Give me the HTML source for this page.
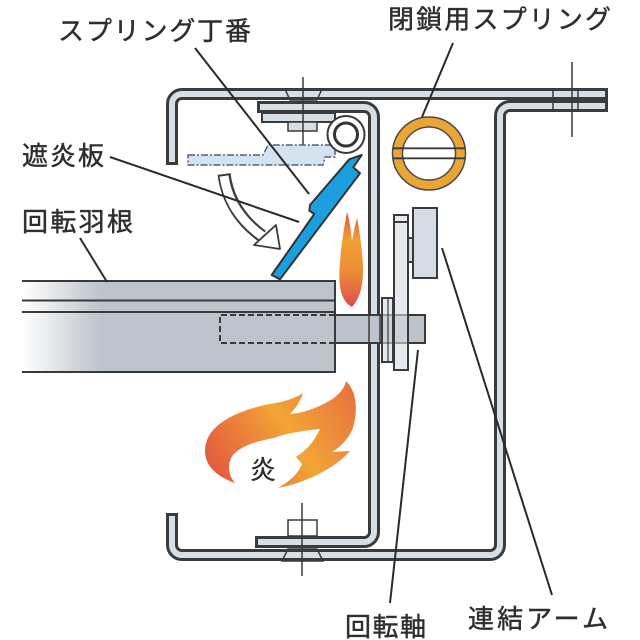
<!DOCTYPE html>
<html><head><meta charset="utf-8"><style>
html,body{margin:0;padding:0;background:#fff;}
svg{display:block}
text{font-family:"Liberation Sans","Noto Sans CJK JP",sans-serif;fill:#2e2e2e;stroke:#2e2e2e;stroke-width:0.45;}
</style></head><body>
<svg width="640" height="640" viewBox="0 0 640 640" xmlns="http://www.w3.org/2000/svg">
<defs>
<linearGradient id="blade" x1="22" y1="0" x2="100" y2="0" gradientUnits="userSpaceOnUse">
<stop offset="0" stop-color="#ffffff"/><stop offset="1" stop-color="#bdc4cc"/>
</linearGradient>
<linearGradient id="fl1" x1="0" y1="0" x2="0" y2="1">
<stop offset="0" stop-color="#e0553a"/><stop offset="0.3" stop-color="#f0a032"/><stop offset="0.65" stop-color="#eb8a38"/><stop offset="1" stop-color="#e04a4a"/>
</linearGradient>
<linearGradient id="fl2" x1="205" y1="480" x2="355" y2="385" gradientUnits="userSpaceOnUse">
<stop offset="0" stop-color="#e2503f"/><stop offset="0.55" stop-color="#f2a536"/><stop offset="1" stop-color="#e8703f"/>
</linearGradient>
</defs>

<!-- rotating blade -->
<rect x="22" y="281" width="313" height="91" fill="url(#blade)"/>
<g stroke="#3a3a3a" stroke-width="2" fill="none">
<line x1="22" y1="281" x2="336" y2="281"/>
<line x1="22" y1="300.5" x2="335" y2="300.5"/>
<line x1="22" y1="312" x2="335" y2="312"/>
<line x1="22" y1="372" x2="336" y2="372"/>
<line x1="335" y1="281" x2="335" y2="372"/>
<path d="M335,315 H220 V343 H335" stroke-dasharray="6,3"/>
</g>

<!-- frame pieces -->
<g fill="none" stroke-linejoin="round">
<path d="M608,106 H510 A10,10 0 0 0 500,116 V545 A10,10 0 0 1 490,555 H182 A10,10 0 0 1 172,545 V513" stroke="#3b3b3b" stroke-width="12"/>
<path d="M605,106 H510 A10,10 0 0 0 500,116 V545 A10,10 0 0 1 490,555 H182 A10,10 0 0 1 172,545 V516" stroke="#d6dee6" stroke-width="6"/>
<path d="M172,165 V104 A10,10 0 0 1 182,94 H608" stroke="#3b3b3b" stroke-width="12"/>
<path d="M172,162 V104 A10,10 0 0 1 182,94 H605" stroke="#d6dee6" stroke-width="6"/>
<path d="M257,107 H364 A10,10 0 0 1 374,117 V532 A10,10 0 0 1 364,542 H255" stroke="#3b3b3b" stroke-width="12"/>
<path d="M260,107 H364 A10,10 0 0 1 374,117 V532 A10,10 0 0 1 364,542 H258" stroke="#d6dee6" stroke-width="6"/>
</g>

<!-- hinge leaf and top bolt -->
<rect x="262" y="113" width="73" height="9" fill="#d6dee6" stroke="#3b3b3b" stroke-width="2"/>
<g stroke="#3a3a3a" stroke-width="1.5" fill="none">
<polygon points="285,89 322,89 317,100 290,100"/>
<rect x="288" y="122" width="29" height="9" fill="#d6dee6"/>
<line x1="303" y1="77" x2="303" y2="147"/>
<!-- bottom bolt -->
<rect x="288" y="520" width="29" height="16" fill="#fff"/>
<polygon points="288,549 317,549 323,561 282,561"/>
<line x1="302" y1="503" x2="302" y2="576"/>
<!-- right bolt -->
<line x1="572" y1="62" x2="572" y2="137"/>
<line x1="553" y1="89" x2="553" y2="111"/>
<line x1="578" y1="89" x2="578" y2="111"/>
</g>

<!-- dashed open-position plate -->
<polygon points="188,155 263,155 268,145 335,145 335,157 325,157 323,165 188,165" fill="#d3e3f0" stroke="#556070" stroke-width="1.5" stroke-dasharray="7,2,2,2"/>

<!-- curved arrow -->
<path d="M224,174 Q229,212 262,236" fill="none" stroke="#3a3a3a" stroke-width="13"/>
<path d="M224,176 Q229,212 262,236" fill="none" stroke="#ffffff" stroke-width="9"/>
<polygon points="254,245 276,225 280,249" fill="#fff" stroke="#3a3a3a" stroke-width="1.8" stroke-linejoin="round"/>

<!-- blue flame shield plate -->
<polygon points="271.7,275 280,279.3 360,173.3 353.3,167.3 361.7,155 349.3,159.3 310,205 309.3,210.7 314.3,214" fill="#1c9fde" stroke="#333" stroke-width="2" stroke-linejoin="round"/>

<!-- hinge circle -->
<circle cx="346" cy="134.5" r="18.5" fill="#fff" stroke="#3a3a3a" stroke-width="2"/>
<circle cx="346" cy="134.5" r="11.5" fill="#fff" stroke="#333" stroke-width="3"/>

<!-- closing spring -->
<circle cx="429" cy="153.5" r="31.5" fill="#fff" stroke="#eaa537" stroke-width="10"/>
<circle cx="429" cy="153.5" r="36.5" fill="none" stroke="#4a4a4a" stroke-width="1.5"/>
<circle cx="429" cy="153.5" r="26.5" fill="none" stroke="#4a4a4a" stroke-width="1.5"/>
<line x1="393" y1="148.3" x2="465" y2="148.3" stroke="#3a3a3a" stroke-width="1.8"/>
<line x1="393" y1="158.3" x2="465" y2="158.3" stroke="#3a3a3a" stroke-width="1.8"/>

<!-- shaft -->
<rect x="335" y="315" width="90" height="28" fill="#bcc3cb" stroke="#3a3a3a" stroke-width="2"/>
<line x1="369" y1="315" x2="369" y2="343" stroke="#3a3a3a" stroke-width="1.5"/>
<line x1="380" y1="315" x2="380" y2="343" stroke="#3a3a3a" stroke-width="1.5"/>

<!-- disc / arm parts -->
<g stroke="#3a3a3a" stroke-width="2">
<rect x="394" y="215" width="14" height="155" fill="#d5dce4" fill-opacity="0.6"/>
<line x1="394" y1="222" x2="408" y2="222"/>
<rect x="413" y="208" width="24" height="70" fill="#d5dce4"/>
<rect x="408" y="238" width="5" height="24" fill="#d5dce4"/>
<rect x="382" y="298" width="11" height="64" fill="#d5dce4" fill-opacity="0.6"/>
<line x1="388" y1="298" x2="388" y2="362" stroke-width="1.2"/>
</g>

<!-- small flame -->
<path d="M352,307 C340,301 338,283 340,263 C341,246 344,228 347,212 C350,222 351,232 352,241 C354,230 356,222 357,218 C359,228 361,241 362,253 C364,272 364,294 352,307 Z" fill="url(#fl1)"/>

<!-- big flame -->
<path d="M235,483 C212,475 200,460 207,440 C214,421 243,409 270,404 C284,402 296,398 303,393 C300,402 295,409 290,414 C305,413 322,406 334,398 C341,392 345,387 346,381 C357,392 358,410 353,428 C348,440 340,447 332,452 L350,451 C335,468 308,482 278,488 C292,480 299,472 302,464 L296,457 C303,452 312,446 320,429 C302,431 287,433 274,438 C257,441 241,446 233,455 C227,463 228,475 235,483 Z" fill="url(#fl2)"/>
<text x="250" y="479" font-size="26" style="stroke-width:0.3">炎</text>

<!-- leader lines -->
<g stroke="#2a2a2a" stroke-width="2">
<line x1="195" y1="48" x2="309" y2="194"/>
<line x1="110" y1="157" x2="299" y2="222"/>
<line x1="80" y1="238" x2="107" y2="282"/>
<line x1="453" y1="43" x2="422" y2="117"/>
<line x1="418" y1="350" x2="390" y2="603"/>
<line x1="442" y1="248" x2="552" y2="595"/>
</g>

<!-- labels -->
<text x="58" y="40" font-size="26" textLength="193" lengthAdjust="spacing">スプリング丁番</text>
<text x="388" y="28.5" font-size="26" textLength="223" lengthAdjust="spacing">閉鎖用スプリング</text>
<text x="22" y="165" font-size="26" textLength="82" lengthAdjust="spacing">遮炎板</text>
<text x="22" y="231" font-size="26" textLength="111" lengthAdjust="spacing">回転羽根</text>
<text x="345" y="636" font-size="26" textLength="81" lengthAdjust="spacing">回転軸</text>
<text x="468" y="628" font-size="26" textLength="140" lengthAdjust="spacing">連結アーム</text>
</svg>
</body></html>
